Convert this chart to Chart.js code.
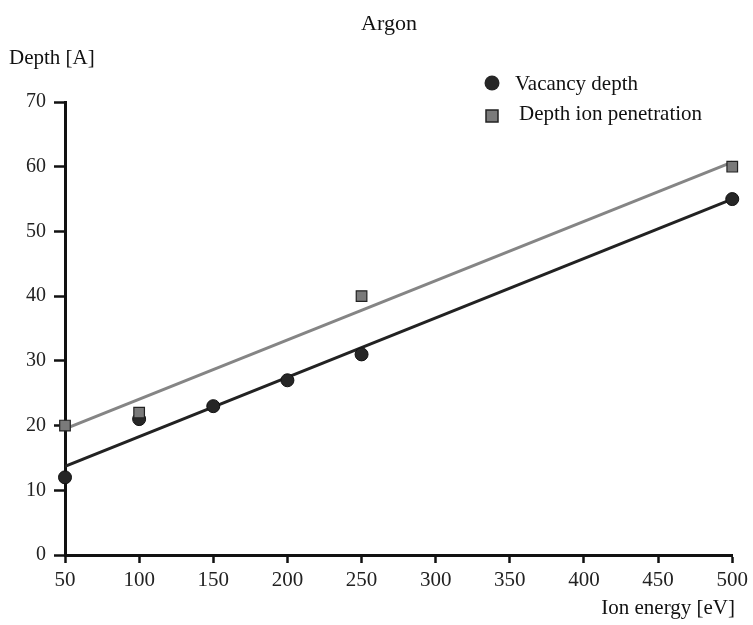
<!DOCTYPE html>
<html>
<head>
<meta charset="utf-8">
<script src="https://cdn.jsdelivr.net/npm/chart.js@4.4.0/dist/chart.umd.min.js"></script>
<style>
  html, body { margin: 0; padding: 0; background: #fff; }
  #wrap { width: 753px; height: 625px; }
</style>
</head>
<body>
<div id="wrap"><canvas id="chart"></canvas></div>
<script>
const vacancyEnergy = [50, 100, 150, 200, 250, 500];
const vacancyDepth = [12, 21, 23, 27, 31, 55];
const ionEnergy = [50, 100, 250, 500];
const ionDepth = [20, 22, 40, 60];
const fitEnergy = [50, 500];
const vacancyFit = [13.7, 55];
const ionFit = [19.5, 60.7];
const xTicks = [50, 100, 150, 200, 250, 300, 350, 400, 450, 500];
const yTicks = [0, 10, 20, 30, 40, 50, 60, 70];

const serif = "'Liberation Serif', 'DejaVu Serif', serif";
const toPoints = (xs, ys) => xs.map((x, i) => ({ x: x, y: ys[i] }));

// title, axis captions and the legend are painted by hand
const decorations = {
  id: "decorations",
  afterDraw(chart) {
    const ctx = chart.ctx;
    ctx.save();
    ctx.fillStyle = "#111";
    ctx.textBaseline = "alphabetic";

    ctx.font = "22px " + serif;
    ctx.textAlign = "center";
    ctx.fillText("Argon", 389, 30);

    ctx.font = "21px " + serif;
    ctx.textAlign = "left";
    ctx.fillText("Depth [A]", 9, 64);

    ctx.textAlign = "right";
    ctx.fillText("Ion energy [eV]", 735, 614);

    // legend
    ctx.textAlign = "left";
    ctx.beginPath();
    ctx.arc(492, 83, 7.5, 0, Math.PI * 2);
    ctx.fillStyle = "#262626";
    ctx.fill();
    ctx.fillStyle = "#111";
    ctx.fillText("Vacancy depth", 515, 90);

    ctx.fillStyle = "#7a7a7a";
    ctx.fillRect(486, 110, 12, 12);
    ctx.strokeStyle = "#222";
    ctx.lineWidth = 1.5;
    ctx.strokeRect(486, 110, 12, 12);
    ctx.fillStyle = "#111";
    ctx.fillText("Depth ion penetration", 519, 120);
    ctx.restore();
  }
};

new Chart(document.getElementById("chart"), {
  type: "scatter",
  data: {
    datasets: [
      {
        label: "Vacancy depth",
        data: toPoints(vacancyEnergy, vacancyDepth),
        pointStyle: "circle",
        pointRadius: 6.5,
        pointBackgroundColor: "#262626",
        pointBorderColor: "#111",
        pointBorderWidth: 1,
        showLine: false,
        clip: false,
        order: 1
      },
      {
        label: "Depth ion penetration",
        data: toPoints(ionEnergy, ionDepth),
        pointStyle: "rect",
        pointRadius: 7.5,
        pointBackgroundColor: "#7a7a7a",
        pointBorderColor: "#222",
        pointBorderWidth: 1.2,
        showLine: false,
        clip: false,
        order: 0
      },
      {
        label: "Vacancy fit",
        data: toPoints(fitEnergy, vacancyFit),
        showLine: true,
        borderColor: "#222",
        borderWidth: 3,
        pointRadius: 0,
        order: 3
      },
      {
        label: "Ion fit",
        data: toPoints(fitEnergy, ionFit),
        showLine: true,
        borderColor: "#858585",
        borderWidth: 3,
        pointRadius: 0,
        order: 4
      }
    ]
  },
  options: {
    responsive: true,
    maintainAspectRatio: false,
    animation: false,
    layout: { padding: { top: 102, right: 20, left: 0, bottom: 0 } },
    plugins: {
      legend: { display: false },
      title: { display: false },
      tooltip: { enabled: false }
    },
    scales: {
      x: {
        type: "linear",
        min: 50,
        max: 500,
        afterBuildTicks: (scale) => { scale.ticks = xTicks.map((v) => ({ value: v })); },
        afterFit: (scale) => { scale.height = 70; },
        grid: {
          drawOnChartArea: false,
          drawTicks: true,
          tickLength: 8,
          tickWidth: 2.5,
          tickColor: "#111"
        },
        border: { display: true, width: 3, color: "#111" },
        ticks: {
          padding: 5,
          color: "#222",
          font: { family: serif, size: 21 }
        }
      },
      y: {
        type: "linear",
        min: 0,
        max: 70,
        afterBuildTicks: (scale) => { scale.ticks = yTicks.map((v) => ({ value: v })); },
        afterFit: (scale) => { scale.width = 65; },
        grid: {
          drawOnChartArea: false,
          drawTicks: true,
          tickLength: 11,
          tickWidth: 2.5,
          tickColor: "#111"
        },
        border: { display: true, width: 3, color: "#111" },
        ticks: {
          padding: 8,
          color: "#222",
          font: { family: serif, size: 20 }
        }
      }
    }
  },
  plugins: [decorations]
});
</script>
</body>
</html>
